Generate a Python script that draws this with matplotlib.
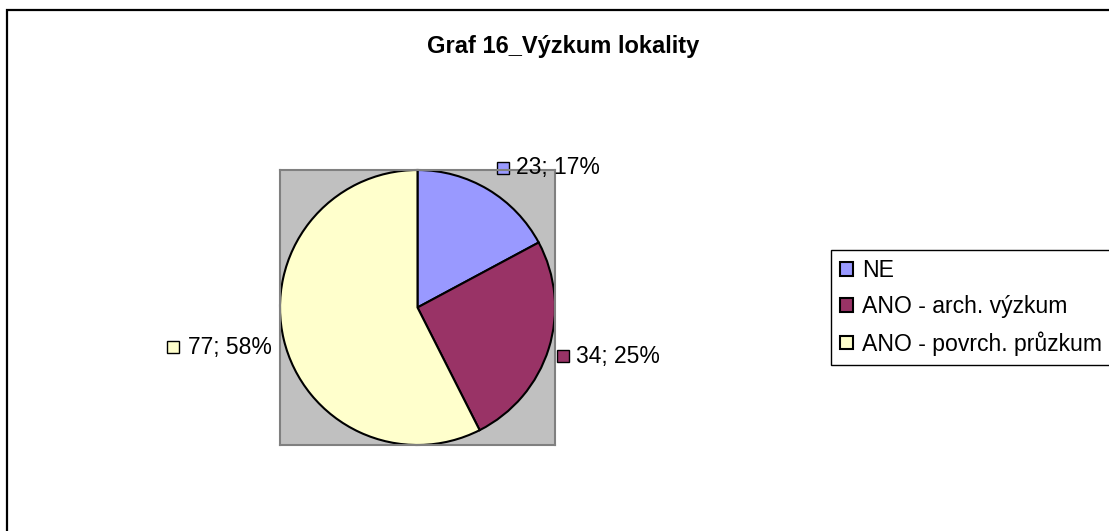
import matplotlib.pyplot as plt
from matplotlib.patches import Rectangle

categories = ["NE", "ANO - arch. výzkum", "ANO - povrch. průzkum"]
counts = [23, 34, 77]
percents = [17, 25, 58]
colors = ["#9999FF", "#993366", "#FFFFCC"]

plt.rcParams["font.family"] = ["Liberation Sans", "DejaVu Sans"]

W, H = 1109, 531
fig = plt.figure(figsize=(W / 100, H / 100), dpi=100)
fig.patch.set_facecolor("white")

# outer chart frame (runs off the right and bottom edges)
fig.patches.append(Rectangle((7 / W, -0.1), 1.2, 1 - 10 / H + 0.1,
                             transform=fig.transFigure, fill=False,
                             edgecolor="black", linewidth=1.6))

fig.text(563 / W, 1 - 46 / H, "Graf 16_Výzkum lokality", ha="center",
         va="center", fontsize=17, fontweight="bold")

# plot area: grey square that the pie fills
ax = fig.add_axes([280 / W, 1 - 445 / H, 275 / W, 275 / H])
wedges, _ = ax.pie(counts, colors=colors, startangle=90, counterclock=False,
                   frame=True,
                   wedgeprops=dict(edgecolor="black", linewidth=1.5))
ax.set_facecolor("#C0C0C0")
ax.set_xlim(-1, 1)
ax.set_ylim(-1, 1)
ax.set_xticks([])
ax.set_yticks([])
for sp in ax.spines.values():
    sp.set_color("#808080")
    sp.set_linewidth(1.5)

# data labels: (marker x, marker y, text x, text baseline y, text align)
label_pos = [
    (0.622, 1.015, 0.716, 0.971, "left"),
    (1.058, -0.353, 1.153, -0.404, "left"),
    (-1.778, -0.284, -1.058, -0.338, "right"),
]
for (mx, my, tx, ty, ha), n, p, c in zip(label_pos, counts, percents, colors):
    ax.plot([mx], [my], marker="s", ms=8.6, mfc=c, mec="black", mew=1.0,
            clip_on=False)
    ax.text(tx, ty, f"{n}; {p}%", ha=ha, va="baseline", fontsize=16.5,
            clip_on=False)

leg = fig.legend(wedges, categories, loc="upper left",
                 bbox_to_anchor=(831 / W, 1 - 250 / H), borderaxespad=0,
                 fontsize=16.6, frameon=True, fancybox=False, framealpha=1,
                 edgecolor="black", handlelength=0.55, handleheight=0.55,
                 handletextpad=0.4, labelspacing=0.56, borderpad=0.4)
leg.get_frame().set_linewidth(1.0)

fig.savefig("out.png", dpi=100)
